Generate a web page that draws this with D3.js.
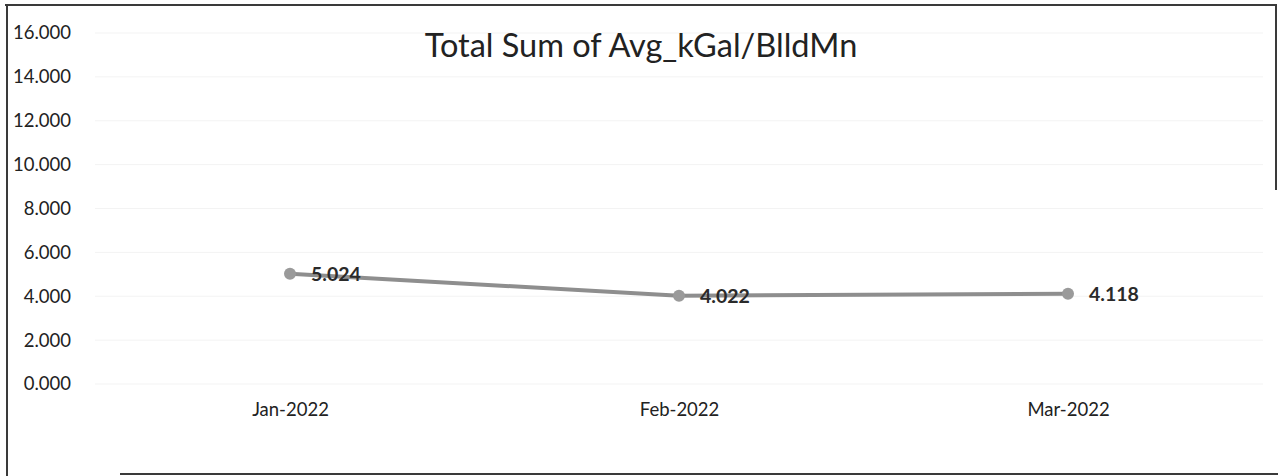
<!DOCTYPE html>
<html>
<head>
<meta charset="utf-8">
<script src="https://cdn.jsdelivr.net/npm/d3@7"></script>
<style>
	body { margin: 0; background: #fff; }
	text { font-family: Lato, "Open Sans", sans-serif; }
</style>
</head>
<body>
<svg id="chart"></svg>
<script>
var months = ['Jan-2022', 'Feb-2022', 'Mar-2022'];
var values = [5.024, 4.022, 4.118];
var yTicks = [0, 2, 4, 6, 8, 10, 12, 14, 16];
var title = 'Total Sum of Avg_kGal/BlldMn';

var width = 1278, height = 476;
var svg = d3.select('#chart').attr('width', width).attr('height', height);

var x = d3.scalePoint().domain(months).range([290, 1068]);
var y = d3.scaleLinear().domain([0, 16]).range([384, 33]);

// frame (scanned border, partly broken)
var frame = svg.append('g').attr('stroke', '#3a3a3a').attr('stroke-width', 2).attr('fill', 'none');
frame.append('line').attr('x1', 5).attr('y1', 5).attr('x2', 1277).attr('y2', 5);
frame.append('line').attr('x1', 7).attr('y1', 5).attr('x2', 7).attr('y2', 476);
frame.append('line').attr('x1', 1276).attr('y1', 5).attr('x2', 1276).attr('y2', 190);
frame.append('line').attr('x1', 120).attr('y1', 474).attr('x2', 1278).attr('y2', 474);

// faint gridlines
svg.append('g')
	.selectAll('line')
	.data(yTicks)
	.enter()
	.append('line')
	.attr('x1', 95).attr('x2', 1263)
	.attr('y1', function (d) { return y(d); })
	.attr('y2', function (d) { return y(d); })
	.attr('stroke', '#f3f3f3')
	.attr('stroke-width', 1);

// y axis labels
var yAxis = d3.axisLeft(y).tickValues(yTicks).tickSize(0).tickPadding(0)
	.tickFormat(d3.format('.3f'));
var yg = svg.append('g').attr('transform', 'translate(71,0)').call(yAxis);
yg.select('.domain').remove();
yg.selectAll('text')
	.attr('font-family', 'Lato, "Open Sans", sans-serif')
	.attr('font-size', 18.5)
	.attr('fill', '#222');

// x axis labels
var xAxis = d3.axisBottom(x).tickSize(0).tickPadding(0);
var xg = svg.append('g').attr('transform', 'translate(0,403)').call(xAxis);
xg.select('.domain').remove();
xg.selectAll('text')
	.attr('font-family', 'Lato, "Open Sans", sans-serif')
	.attr('font-size', 18.5)
	.attr('fill', '#222');

// title
svg.append('text')
	.attr('x', 641).attr('y', 57)
	.attr('text-anchor', 'middle')
	.attr('font-size', 32.5)
	.attr('fill', '#222')
	.text(title);

// line
var pts = months.map(function (m, i) { return {m: m, v: values[i]}; });
svg.append('path')
	.datum(pts)
	.attr('fill', 'none')
	.attr('stroke', '#8e8e8e')
	.attr('stroke-width', 4)
	.attr('d', d3.line()
		.x(function (d) { return x(d.m); })
		.y(function (d) { return y(d.v); }));

svg.append('g')
	.selectAll('circle')
	.data(pts)
	.enter()
	.append('circle')
	.attr('cx', function (d) { return x(d.m); })
	.attr('cy', function (d) { return y(d.v); })
	.attr('r', 6)
	.attr('fill', '#9a9a9a');

svg.append('g')
	.selectAll('text')
	.data(pts)
	.enter()
	.append('text')
	.attr('x', function (d) { return x(d.m) + 21; })
	.attr('y', function (d) { return y(d.v) + 7; })
	.attr('font-size', 19.5)
	.attr('font-weight', 'bold')
	.attr('fill', '#2a2a2a')
	.text(function (d) { return d.v.toFixed(3); });
</script>
</body>
</html>
